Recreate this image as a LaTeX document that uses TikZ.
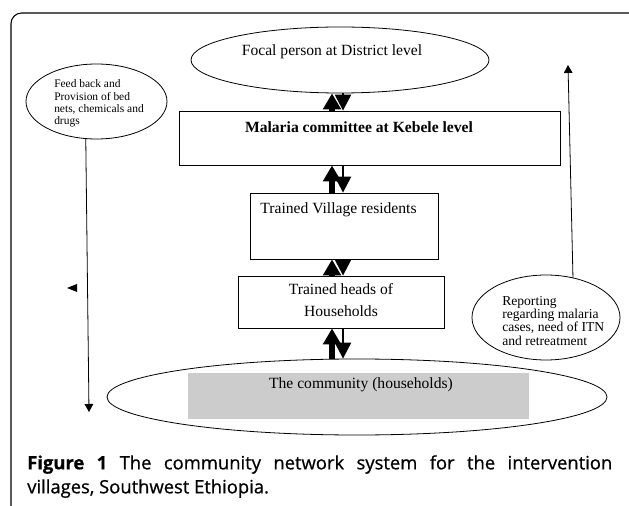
\documentclass[tikz,border=0pt]{standalone}
\usepackage{fontspec}
\setmainfont{Liberation Serif}
\newfontfamily\capfont{Open Sans}[FakeBold=0.7]
\usetikzlibrary{shapes.geometric,arrows.meta,positioning}

\tikzset{
  box/.style={draw, line width=0.6pt, inner sep=0pt},
  oval/.style={draw, ellipse, line width=0.6pt, inner sep=0pt},
  lbl/.style={inner sep=0pt, align=center, font=\fontsize{11.7}{15}\selectfont},
  note/.style={inner sep=0pt, align=left, anchor=west},
  uparrow/.style={line width=3.8pt, -{Triangle[length=12pt,width=13pt]}},
  downarrow/.style={line width=1.8pt, -{Triangle[length=12pt,width=12pt]}},
  thinarrow/.style={line width=0.6pt, -{Triangle[length=6pt,width=6.5pt]}},
}

\begin{document}
\begin{tikzpicture}[x=0.75pt,y=-0.75pt]
    \useasboundingbox (0,0) rectangle (629,506);
    \clip (0,0) rectangle (629,506);
    % frame
    \draw[line width=0.8pt, rounded corners=8pt] (11,13) rectangle (650,520);

    % levels
    \node[oval, minimum width=223.5pt, minimum height=49.5pt] (focal) at (340,60) {};
    \node[lbl] (focaltext) at (332,52) {Focal person at District level};
    \node[box, minimum width=285.75pt, minimum height=40.5pt] (committee) at (369.5,138) {};
    \node[lbl, font=\fontsize{11.7}{15}\selectfont\bfseries] (committeetext) at (359,127) {Malaria committee at Kebele level};
    \node[box, minimum width=141pt, minimum height=49.5pt] (village) at (344,226) {};
    \node[lbl] (villagetext) at (338.5,210) {Trained Village residents};
    \node[box, minimum width=154.5pt, minimum height=39pt] (heads) at (341,302) {};
    \node[lbl] (headstext) at (341,300) {Trained heads of\\[1pt]Households};
    \node[oval, minimum width=375pt, minimum height=57pt] (community) at (357,397) {};
    \fill[black!20] (188,373) rectangle (529,419);
    \node[lbl] (communitytext) at (361,385) {The community (households)};

    % two-way arrows between levels
    \coordinate (upx) at (332,0);
    \coordinate (downx) at (343,0);
    \foreach \lower/\upper in {committee/focal, village/committee, heads/village, community/heads}
    {
        \draw[uparrow] (\lower.north -| upx) -- (\upper.south -| upx);
        \draw[downarrow] (\upper.south -| downx) -- (\lower.north -| downx);
    }

    % side notes
    \node[oval, minimum width=105.75pt, minimum height=56.25pt] (feedback) at (96.5,101.5) {};
    \node[note, font=\fontsize{8.6}{9.3}\selectfont] (feedbacktext) at (54,103.5)
        {Feed back and\\Provision of bed\\nets, chemicals and\\drugs};
    \coordinate (feedbackend) at (89,412);
    \draw[thinarrow] (feedback.254) -- (feedbackend);
    \fill (67,288) -- (77,284) -- (77,292) -- cycle;

    \node[oval, minimum width=111pt, minimum height=63.75pt] (reporting) at (546,317.5) {};
    \node[note, font=\fontsize{10.2}{9.8}\selectfont] (reportingtext) at (502,321)
        {Reporting\\regarding malaria\\cases, need of ITN\\and retreatment};
    \coordinate (reportingend) at (568,65);
    \draw[thinarrow] (reporting.56) -- (reportingend);

    % caption
    \node[anchor=north west, inner sep=0pt, text width=438.75pt, align=justify,
          font=\capfont\fontsize{13.8}{18}\selectfont] (caption) at (27,455)
        {\textbf{Figure 1} The community network system for the intervention\linebreak villages, Southwest Ethiopia.};
\end{tikzpicture}
\end{document}
